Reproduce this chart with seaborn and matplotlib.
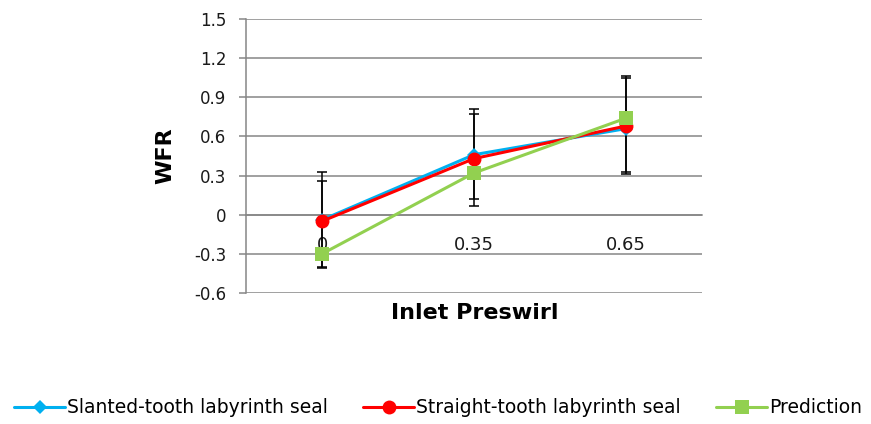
import numpy as np
import pandas as pd
import seaborn as sns
import matplotlib
matplotlib.use("Agg")
import matplotlib.pyplot as plt

# data
preswirl = ["0", "0.35", "0.65"]
slanted = [-0.04, 0.46, 0.66]
straight = [-0.05, 0.43, 0.68]
prediction = [-0.30, 0.32, 0.74]
# error bar ends (upper / lower) for the two measured seals
slanted_hi = [0.33, 0.81, 1.05]
slanted_lo = [-0.40, 0.12, 0.31]
straight_hi = [0.26, 0.77, 1.06]
straight_lo = [-0.41, 0.07, 0.33]
yticks = [-0.6, -0.3, 0, 0.3, 0.6, 0.9, 1.2, 1.5]

names = ["Slanted-tooth labyrinth seal", "Straight-tooth labyrinth seal", "Prediction"]
colors = {names[0]: "#00B0F0", names[1]: "#FF0000", names[2]: "#92D050"}
marks = {names[0]: "D", names[1]: "o", names[2]: "s"}

pos = np.arange(len(preswirl))
df = pd.DataFrame({
    "pos": np.tile(pos, 3),
    "WFR": slanted + straight + prediction,
    "series": np.repeat(names, len(preswirl)),
})

sns.set_style("white")
plt.rcParams["font.family"] = ["DejaVu Sans"]
plt.rcParams["text.color"] = "black"
plt.rcParams["axes.labelcolor"] = "black"
grid_c = "#868686"

fig = plt.figure(figsize=(8.71, 4.24), dpi=100)
ax = fig.add_axes([246 / 871, 1 - 293 / 424, 456 / 871, 274 / 424])

# error bars under the lines
for y, hi, lo in [(slanted, slanted_hi, slanted_lo), (straight, straight_hi, straight_lo)]:
    y = np.array(y)
    ax.errorbar(pos, y, yerr=[y - np.array(lo), np.array(hi) - y], fmt="none",
                ecolor="black", elinewidth=1.1, capsize=3.5, capthick=1.1, zorder=2)

sns.lineplot(data=df, x="pos", y="WFR", hue="series", style="series", hue_order=names,
             style_order=names, palette=colors, markers=marks, dashes=False,
             linewidth=2.2, markersize=10, markeredgewidth=0, ax=ax, zorder=3)

# diamonds are smaller in the original
for ln in ax.lines:
    if ln.get_marker() == "D":
        ln.set_markersize(7)

ax.set_xlim(-0.5, 2.5)
ax.set_ylim(-0.6, 1.5)
ax.set_yticks(yticks)
ax.set_yticklabels(["-0.6", "-0.3", "0", "0.3", "0.6", "0.9", "1.2", "1.5"])
ax.grid(axis="y", color=grid_c, linewidth=1.1)
ax.set_axisbelow(True)

for s in ["top", "right"]:
    ax.spines[s].set_visible(False)
ax.spines["left"].set_color(grid_c)
ax.spines["left"].set_linewidth(1.1)
ax.spines["bottom"].set_position(("data", 0))
ax.spines["bottom"].set_color(grid_c)
ax.spines["bottom"].set_linewidth(1.1)

ax.set_xticks(pos)
ax.set_xticklabels(preswirl)
ax.set_xticks([0.5, 1.5, 2.5], minor=True)
ax.tick_params(axis="x", which="major", length=0, pad=15, labelsize=13, labelcolor="#1a1a1a")
ax.tick_params(axis="x", which="minor", length=5, width=1.1, color=grid_c, direction="out")
ax.tick_params(axis="y", length=5, width=1.1, color=grid_c, direction="out", pad=9,
               labelsize=12, labelcolor="#1a1a1a", left=True)

ax.set_xlabel("Inlet Preswirl", fontsize=16, fontweight="bold")
ax.xaxis.set_label_coords(0.502, -0.035)
ax.set_ylabel("WFR", fontsize=16, fontweight="bold")
ax.yaxis.set_label_coords(-0.155, 0.5)

h, l = ax.get_legend_handles_labels()
ax.get_legend().remove()
for hd in h:
    if hd.get_marker() == "D":
        hd.set_markersize(7)
fig.legend(h, l, loc="center", bbox_to_anchor=(0.503, 0.038), ncol=3, frameon=False,
           fontsize=13.5, handlelength=2.7, handletextpad=0.1, columnspacing=1.9)

fig.savefig("out.png", dpi=100)
